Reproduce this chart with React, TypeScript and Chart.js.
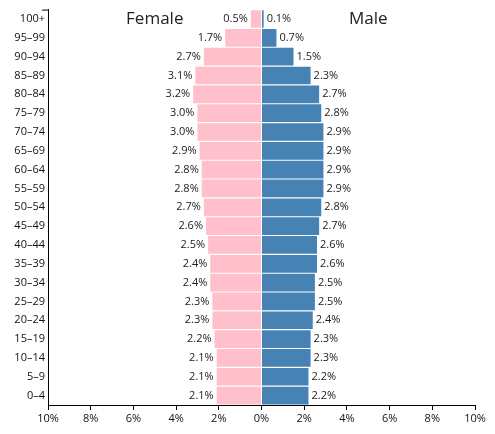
import React, { useEffect, useRef } from "react";
import { Chart, registerables } from "chart.js";

Chart.register(...registerables);

const ageGroups = ["100+", "95–99", "90–94", "85–89", "80–84", "75–79", "70–74", "65–69", "60–64", "55–59", "50–54", "45–49", "40–44", "35–39", "30–34", "25–29", "20–24", "15–19", "10–14", "5–9", "0–4"];
const female = [0.5, 1.7, 2.7, 3.1, 3.2, 3.0, 3.0, 2.9, 2.8, 2.8, 2.7, 2.6, 2.5, 2.4, 2.4, 2.3, 2.3, 2.2, 2.1, 2.1, 2.1];
const male = [0.1, 0.7, 1.5, 2.3, 2.7, 2.8, 2.9, 2.9, 2.9, 2.9, 2.8, 2.7, 2.6, 2.6, 2.5, 2.5, 2.4, 2.3, 2.3, 2.2, 2.2];
const axisMax = 10;
const axisStep = 2;

const FONT = "'Open Sans', 'DejaVu Sans', sans-serif";

export default function App() {
  const ref = useRef<HTMLCanvasElement>(null);
  useEffect(() => {
    document.body.style.margin = "0";
    const labelPlugin = {
      id: "pyramidLabels",
      afterDatasetsDraw(chart: any) {
        const ctx = chart.ctx;
        ctx.save();
        ctx.font = `11px ${FONT}`;
        ctx.fillStyle = "#222";
        ctx.textBaseline = "middle";
        chart.data.datasets.forEach((ds: any, di: number) => {
          const meta = chart.getDatasetMeta(di);
          meta.data.forEach((el: any, i: number) => {
            const v = Math.abs(ds.data[i]).toFixed(1) + "%";
            if (di === 0) {
              ctx.textAlign = "right";
              ctx.fillText(v, el.x - 3, el.y);
            } else {
              ctx.textAlign = "left";
              ctx.fillText(v, el.x + 3, el.y);
            }
          });
        });
        const area = chart.chartArea;
        const xs = chart.scales.x;
        const zero = xs.getPixelForValue(0);
        ctx.font = `17px ${FONT}`;
        ctx.fillStyle = "#222";
        ctx.textAlign = "center";
        ctx.fillText("Female", (area.left + zero) / 2, area.top + 10);
        ctx.fillText("Male", (zero + area.right) / 2, area.top + 10);
        // outer tick at top of y axis
        ctx.strokeStyle = "#000";
        ctx.lineWidth = 1;
        ctx.beginPath();
        ctx.moveTo(area.left - 6, area.top + 0.5);
        ctx.lineTo(area.left, area.top + 0.5);
        ctx.stroke();
        ctx.restore();
      },
    };
    const chart = new Chart(ref.current!, {
      type: "bar",
      data: {
        labels: ageGroups,
        datasets: [
          { label: "Female", data: female.map((v) => -v), backgroundColor: "#FFC0CB", borderWidth: 0 },
          { label: "Male", data: male, backgroundColor: "#4682B4", borderWidth: 0 },
        ],
      },
      options: {
        indexAxis: "y",
        responsive: false,
        animation: false,
        layout: { padding: { top: 2, right: 20, left: 0, bottom: 0 } },
        plugins: { legend: { display: false }, tooltip: { enabled: false }, title: { display: false } },
        datasets: { bar: { barPercentage: 0.94, categoryPercentage: 1 } },
        scales: {
          x: {
            type: "linear",
            min: -axisMax,
            max: axisMax,
            stacked: true,
            border: { display: true, color: "#000", width: 1 },
            grid: { drawOnChartArea: false, drawTicks: true, tickLength: 5, color: "#000" },
            ticks: {
              stepSize: axisStep,
              padding: 2,
              color: "#111",
              font: { family: FONT, size: 11 },
              callback: (v: any) => Math.abs(Number(v)) + "%",
            },
            afterFit: (s: any) => { s.height = 29; },
          },
          y: {
            type: "category",
            stacked: true,
            border: { display: true, color: "#000", width: 1 },
            grid: { drawOnChartArea: false, drawTicks: false },
            ticks: { padding: 3, color: "#111", font: { family: FONT, size: 11 } },
            afterFit: (s: any) => { s.width = 48; },
          },
        },
      },
      plugins: [labelPlugin],
    } as any);
    return () => chart.destroy();
  }, []);
  return <canvas ref={ref} width={495} height={434} style={{ display: "block" }} />;
}
